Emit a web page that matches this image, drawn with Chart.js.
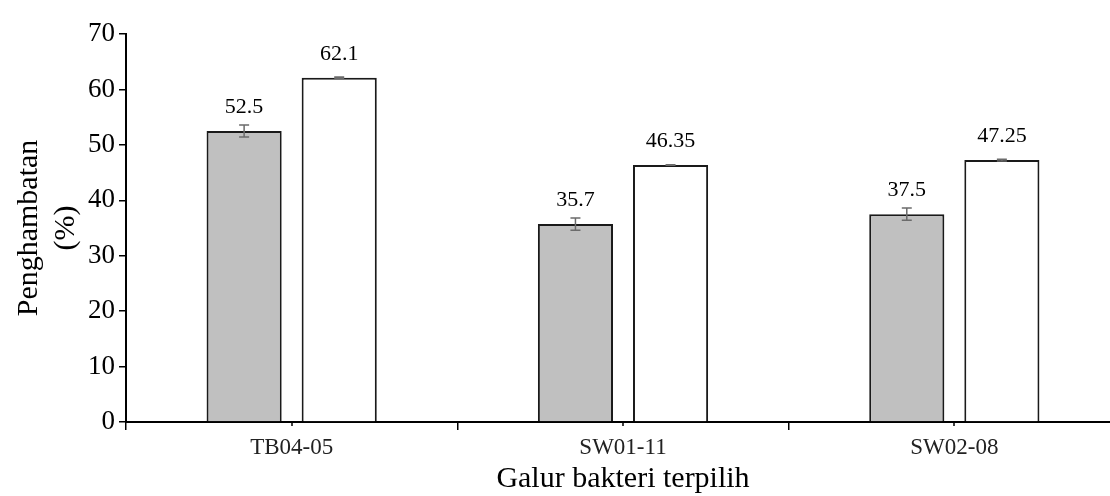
<!DOCTYPE html>
<html>
<head>
<meta charset="utf-8">
<script src="https://cdn.jsdelivr.net/npm/chart.js@4.4.0/dist/chart.umd.min.js"></script>
<style>
html,body{margin:0;padding:0;background:#fff;overflow:hidden;}
#container{position:relative;width:1120px;height:496px;}
</style>
</head>
<body>
<div id="container"><canvas id="myChart"></canvas></div>
<script>
// data
const strains = ['TB04-05', 'SW01-11', 'SW02-08'];
const grayValues = [52.5, 35.7, 37.5];
const grayErrors = [1.1, 1.1, 1.1];
const grayLabels = ['52.5', '35.7', '37.5'];
const whiteValues = [62.1, 46.35, 47.25];
const whiteErrors = [0.15, 0.05, 0.15];
const whiteLabels = ['62.1', '46.35', '47.25'];
const yMin = 0, yMax = 70, yStep = 10;

const serif = '"Liberation Serif", "Times New Roman", serif';

// error bars + value labels
const errorBars = {
    id: 'errorBars',
    afterDatasetsDraw(chart) {
        const ctx = chart.ctx
        const y = chart.scales.y
        chart.data.datasets.forEach((ds, i) => {
            const meta = chart.getDatasetMeta(i)
            meta.data.forEach((bar, j) => {
                const v = ds.data[j], e = ds.errors[j]
                const top = y.getPixelForValue(v + e)
                const bot = y.getPixelForValue(v - e)
                ctx.save()
                ctx.strokeStyle = '#6b6b6b'
                ctx.lineWidth = 1.5
                ctx.beginPath()
                ctx.moveTo(bar.x, top); ctx.lineTo(bar.x, bot)
                ctx.moveTo(bar.x - 5, top); ctx.lineTo(bar.x + 5, top)
                ctx.moveTo(bar.x - 5, bot); ctx.lineTo(bar.x + 5, bot)
                ctx.stroke()
                ctx.fillStyle = '#000'
                ctx.font = '22px ' + serif
                ctx.textAlign = 'center'
                ctx.textBaseline = 'middle'
                ctx.fillText(ds.valueLabels[j], bar.x, bar.y - 24)
                ctx.restore()
            })
        })
    },
    afterDraw(chart) {
        // short ticks under each category centre
        const ctx = chart.ctx
        const x = chart.scales.x
        const b = chart.chartArea.bottom
        ctx.save()
        ctx.strokeStyle = '#000'
        ctx.lineWidth = 1.5
        strains.forEach((s, i) => {
            const px = Math.round(x.getPixelForValue(i))
            ctx.beginPath()
            ctx.moveTo(px, b); ctx.lineTo(px, b + 4)
            ctx.stroke()
        })
        ctx.restore()
    }
}

const myChart = document.getElementById('myChart').getContext('2d')
new Chart(myChart, {
    type: 'bar',
    data: {
        labels: strains,
        datasets: [
            {
                label: 'A',
                data: grayValues,
                errors: grayErrors,
                valueLabels: grayLabels,
                backgroundColor: '#c0c0c0',
                borderColor: '#1a1a1a',
                borderWidth: 2,
                categoryPercentage: 0.574,
                barPercentage: 0.79
            },
            {
                label: 'B',
                data: whiteValues,
                errors: whiteErrors,
                valueLabels: whiteLabels,
                backgroundColor: '#ffffff',
                borderColor: '#1a1a1a',
                borderWidth: 2,
                categoryPercentage: 0.574,
                barPercentage: 0.79
            }
        ]
    },
    options: {
        responsive: true,
        maintainAspectRatio: false,
        animation: false,
        layout: { padding: { top: 34, left: 0, right: 0, bottom: 0 } },
        plugins: {
            legend: { display: false },
            tooltip: { enabled: false }
        },
        scales: {
            x: {
                offset: true,
                afterFit: (scale) => { scale.height = 74 },
                grid: {
                    offset: true,
                    drawOnChartArea: false,
                    drawTicks: true,
                    tickLength: 8,
                    color: '#000',
                    lineWidth: 1.5
                },
                border: { color: '#000', width: 2 },
                ticks: {
                    color: '#222',
                    padding: 4,
                    font: { family: serif, size: 23 }
                },
                title: {
                    display: true,
                    text: 'Galur bakteri terpilih',
                    color: '#000',
                    padding: 0,
                    font: { family: serif, size: 30, lineHeight: 1.1 }
                }
            },
            y: {
                min: yMin,
                max: yMax,
                afterFit: (scale) => { scale.width = 126 },
                grid: {
                    drawOnChartArea: false,
                    tickLength: 7,
                    color: '#000',
                    lineWidth: 1.5
                },
                border: { color: '#000', width: 2 },
                ticks: {
                    stepSize: yStep,
                    color: '#000',
                    padding: 4,
                    font: { family: serif, size: 27 }
                },
                title: {
                    display: true,
                    text: ['Penghambatan', '(%)'],
                    color: '#000',
                    padding: { top: 10, bottom: 0 },
                    font: { family: serif, size: 30, lineHeight: 1.25 }
                }
            }
        }
    },
    plugins: [errorBars]
})
</script>
</body>
</html>
